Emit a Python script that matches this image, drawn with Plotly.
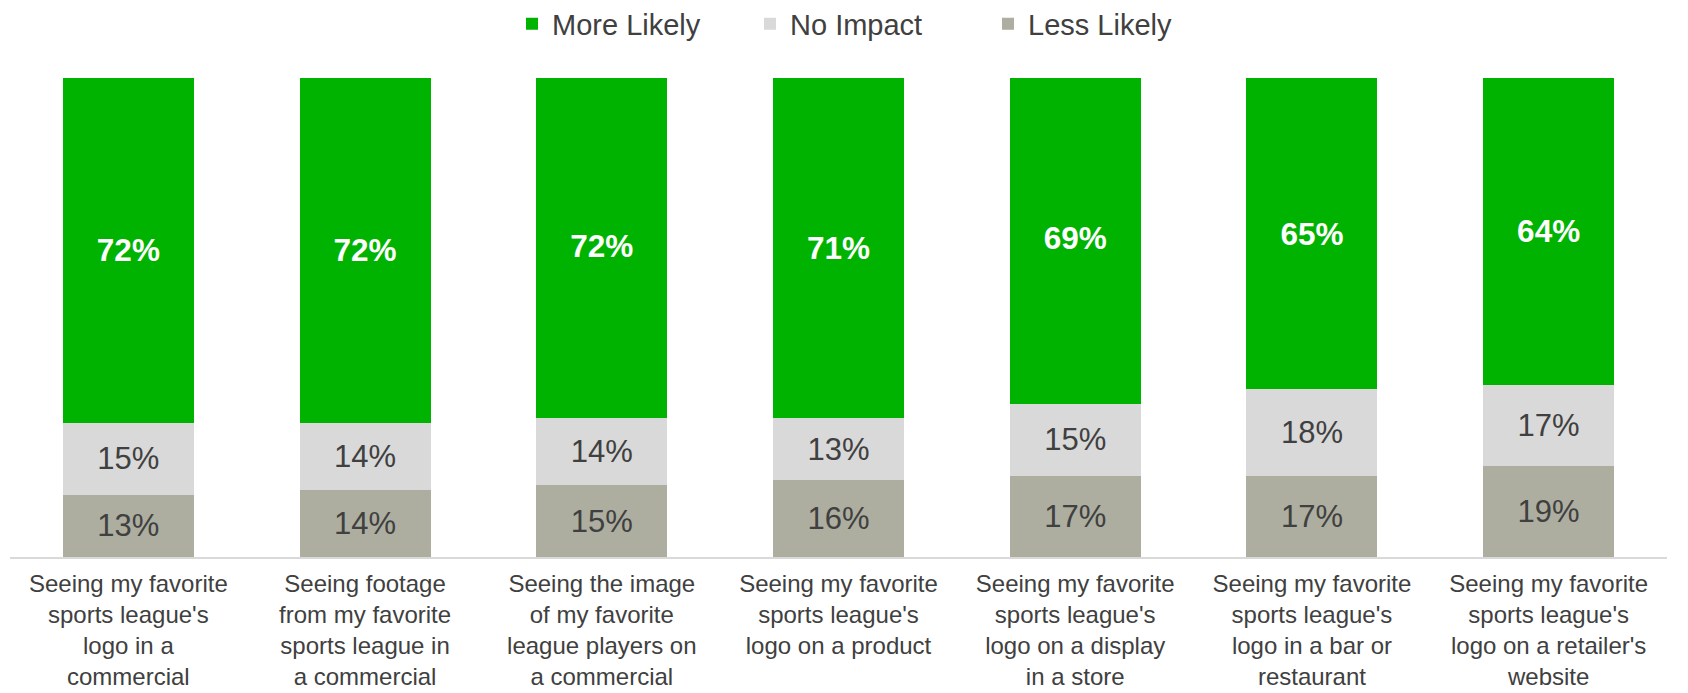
import plotly.graph_objects as go

categories = [
    "Seeing my favorite<br>sports league's<br>logo in a<br>commercial",
    "Seeing footage<br>from my favorite<br>sports league in<br>a commercial",
    "Seeing the image<br>of my favorite<br>league players on<br>a commercial",
    "Seeing my favorite<br>sports league's<br>logo on a product",
    "Seeing my favorite<br>sports league's<br>logo on a display<br>in a store",
    "Seeing my favorite<br>sports league's<br>logo in a bar or<br>restaurant",
    "Seeing my favorite<br>sports league's<br>logo on a retailer's<br>website",
]
more_likely = [72, 72, 72, 71, 69, 65, 64]
no_impact = [15, 14, 14, 13, 15, 18, 17]
less_likely = [13, 14, 15, 16, 17, 17, 19]

FONT = "Liberation Sans, Arial, sans-serif"
DARK = "#404040"

fig = go.Figure()
fig.add_trace(go.Bar(
    name="Less Likely", x=categories, y=less_likely,
    marker=dict(color="#ADAE9F", line=dict(width=0)),
    text=[f"{v}%" for v in less_likely], textposition="inside",
    insidetextanchor="middle",
    textfont=dict(family=FONT, size=31, color=DARK),
))
fig.add_trace(go.Bar(
    name="No Impact", x=categories, y=no_impact,
    marker=dict(color="#D9D9D9", line=dict(width=0)),
    text=[f"{v}%" for v in no_impact], textposition="inside",
    insidetextanchor="middle",
    textfont=dict(family=FONT, size=31, color=DARK),
))
fig.add_trace(go.Bar(
    name="More Likely", x=categories, y=more_likely,
    marker=dict(color="#00B300", line=dict(width=0)),
    text=[f"<b>{v}%</b>" for v in more_likely], textposition="inside",
    insidetextanchor="middle",
    textfont=dict(family=FONT, size=31.5, color="white"),
))

fig.update_layout(
    width=1688, height=693,
    barmode="stack", bargap=0.447,
    paper_bgcolor="white", plot_bgcolor="white",
    margin=dict(l=10, r=21, t=78, b=136),
    uniformtext=dict(minsize=8, mode=False),
    font=dict(family=FONT, color=DARK),
    legend=dict(
        orientation="h", traceorder="reversed",
        xref="container", yref="container",
        x=512 / 1688, xanchor="left",
        y=1 - 24 / 693, yanchor="middle",
        font=dict(family=FONT, size=29, color=DARK),
        entrywidth=193, entrywidthmode="pixels",
        bgcolor="rgba(0,0,0,0)",
    ),
    xaxis=dict(
        showline=True, linecolor="#D9D9D9", linewidth=2,
        ticks="", showgrid=False, ticklabelstandoff=4,
        automargin=False,
        tickfont=dict(family=FONT, size=24, color=DARK),
    ),
    yaxis=dict(range=[0, 100], visible=False, showgrid=False),
)

fig.write_html("out.html")
